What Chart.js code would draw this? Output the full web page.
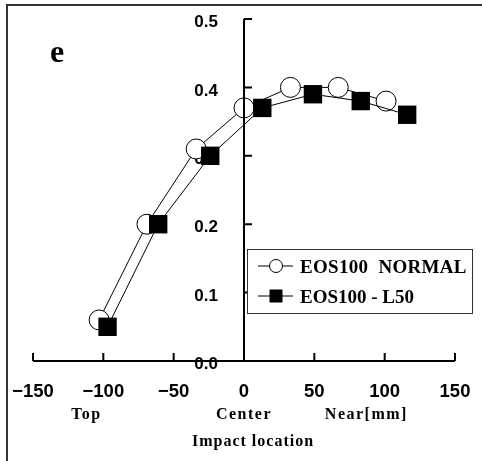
<!DOCTYPE html>
<html>
<head>
<meta charset="utf-8">
<script src="https://cdn.jsdelivr.net/npm/chart.js@4"></script>
<style>
  html, body { margin: 0; padding: 0; background: #fff; }
  #wrap { position: relative; width: 482px; height: 461px; }
</style>
</head>
<body>
<div id="wrap"><canvas id="chart" width="482" height="461"></canvas></div>
<script>
const normalX = [-103, -69, -34, 0, 33, 67, 101];
const normalY = [0.06, 0.20, 0.31, 0.37, 0.40, 0.40, 0.38];
const l50X = [-97, -61, -24, 13, 49, 83, 116];
const l50Y = [0.05, 0.20, 0.30, 0.37, 0.39, 0.38, 0.36];
const xTicks = [-150, -100, -50, 0, 50, 100, 150];
const yTicks = [0, 0.1, 0.2, 0.3, 0.4, 0.5];
const seriesNames = ["EOS100  NORMAL", "EOS100 - L50"];
const sideLabels = [["Top", -112], ["Center", 0], ["Near[mm]", 87]];

const SANS = "'Liberation Sans', Arial, sans-serif";
const SERIF = "'Liberation Serif', 'Times New Roman', serif";

function toPoints(xs, ys) {
  return xs.map((x, i) => ({ x: x, y: ys[i] }));
}

function noOverhang(s) {
  s.paddingLeft = 0;
  s.paddingRight = 0;
  s.paddingTop = 0;
  s.paddingBottom = 0;
}

// axis lines, inward ticks, annotations and legend box
const decor = {
  id: "decor",
  beforeDraw(chart) {
    const ctx = chart.ctx;
    ctx.save();
    ctx.strokeStyle = "#333";
    ctx.lineWidth = 2;
    ctx.beginPath();
    ctx.moveTo(7, 461);
    ctx.lineTo(7, 5);
    ctx.lineTo(482, 5);
    ctx.stroke();
    ctx.restore();
  },
  afterDatasetsDraw(chart) {
    const ctx = chart.ctx;
    const xs = chart.scales.x, ys = chart.scales.y;
    const x0 = xs.getPixelForValue(0);
    const y0 = ys.getPixelForValue(0);
    ctx.save();
    ctx.strokeStyle = "#000";
    ctx.lineWidth = 2;
    ctx.beginPath();
    ctx.moveTo(xs.getPixelForValue(-150), y0);
    ctx.lineTo(xs.getPixelForValue(150), y0);
    xs.ticks.forEach(t => {
      const px = xs.getPixelForValue(t.value);
      ctx.moveTo(px, y0);
      ctx.lineTo(px, y0 - 8);
    });
    ctx.moveTo(x0, y0);
    ctx.lineTo(x0, ys.getPixelForValue(0.5));
    ys.ticks.forEach(t => {
      const py = ys.getPixelForValue(t.value);
      ctx.moveTo(x0, py);
      ctx.lineTo(x0 + 8, py);
    });
    ctx.stroke();

    // panel letter
    ctx.fillStyle = "#000";
    ctx.font = "bold 32px " + SERIF;
    ctx.textAlign = "left";
    ctx.textBaseline = "alphabetic";
    ctx.fillText("e", 50, 62);

    // location words under the ticks
    ctx.font = "bold 16px " + SERIF;
    ctx.letterSpacing = "1.5px";
    ctx.textAlign = "center";
    sideLabels.forEach(([txt, v]) => {
      ctx.fillText(txt, xs.getPixelForValue(v), 419);
    });
    ctx.letterSpacing = "1px";
    ctx.fillText("Impact location", 253, 446);

    // legend
    ctx.letterSpacing = "0px";
    ctx.lineWidth = 1;
    ctx.strokeStyle = "#333";
    ctx.fillStyle = "#fff";
    ctx.fillRect(247.5, 249.5, 225, 64);
    ctx.strokeRect(247.5, 249.5, 225, 64);
    const order = [1, 0];
    order.forEach((di, row) => {
      const ds = chart.data.datasets[di];
      const cy = 266 + row * 30;
      ctx.strokeStyle = "#000";
      ctx.lineWidth = 1;
      ctx.beginPath();
      ctx.moveTo(258, cy);
      ctx.lineTo(293, cy);
      ctx.stroke();
      ctx.fillStyle = ds.pointBackgroundColor;
      if (ds.pointStyle === "circle") {
        ctx.beginPath();
        ctx.arc(276, cy, 6.5, 0, Math.PI * 2);
        ctx.fill();
        ctx.stroke();
      } else {
        ctx.fillRect(269.5, cy - 6.5, 13, 13);
      }
      ctx.fillStyle = "#000";
      ctx.textAlign = "left";
      ctx.textBaseline = "alphabetic";
      ctx.font = "bold 19px " + SERIF;
      ctx.letterSpacing = row === 0 ? "0.3px" : "0px";
      ctx.fillText(ds.label, 300, cy + 6.5);
    });
    ctx.restore();
  }
};

new Chart(document.getElementById("chart"), {
  type: "scatter",
  data: {
    datasets: [
      {
        label: seriesNames[1],
        data: toPoints(l50X, l50Y),
        showLine: true,
        borderColor: "#000",
        borderWidth: 1,
        pointStyle: "rect",
        pointRadius: 13,
        pointBackgroundColor: "#000",
        pointBorderColor: "#000",
        pointBorderWidth: 0,
        order: 0
      },
      {
        label: seriesNames[0],
        data: toPoints(normalX, normalY),
        showLine: true,
        borderColor: "#000",
        borderWidth: 1,
        pointStyle: "circle",
        pointRadius: 10,
        pointBackgroundColor: "#fff",
        pointBorderColor: "#000",
        pointBorderWidth: 1,
        order: 1
      }
    ]
  },
  options: {
    responsive: false,
    animation: false,
    layout: { padding: { left: 33, right: 27, top: 19, bottom: 0 } },
    plugins: { legend: { display: false }, tooltip: { enabled: false } },
    scales: {
      x: {
        type: "linear",
        min: -150,
        max: 150,
        afterBuildTicks: (s) => { s.ticks = xTicks.map(v => ({ value: v })); },
        afterFit: (s) => { s.height = 100; noOverhang(s); },
        grid: { display: false, drawTicks: false },
        border: { display: false },
        ticks: {
          padding: 20,
          color: "#000",
          font: { family: SANS, size: 18.5, weight: "bold" },
          callback: (v) => String(v).replace("-", "\u2212")
        }
      },
      y: {
        type: "linear",
        // labels sit 26px left of the x=0 axis line, which is drawn by the plugin
        position: { x: -18.5 },
        min: 0,
        max: 0.5,
        afterBuildTicks: (s) => { s.ticks = yTicks.map(v => ({ value: v })); },
        afterFit: (s) => { s.width = 0; noOverhang(s); },
        grid: { display: false, drawTicks: false },
        border: { display: false },
        ticks: {
          padding: 0,
          labelOffset: 3.5,
          color: "#000",
          font: { family: SANS, size: 17, weight: "bold" },
          callback: (v) => v.toFixed(1)
        }
      }
    }
  },
  plugins: [decor]
});
</script>
</body>
</html>
